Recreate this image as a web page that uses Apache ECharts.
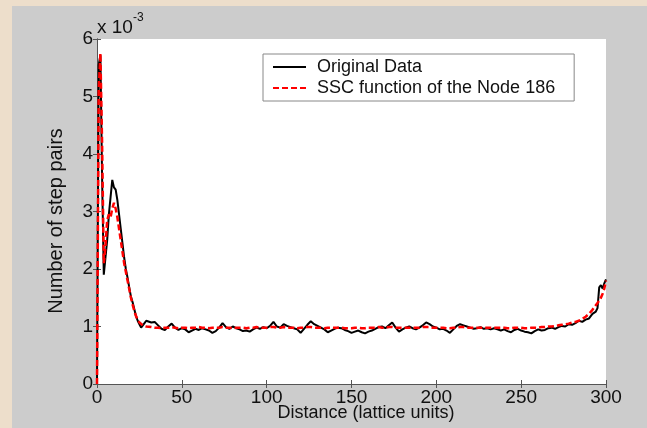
<!DOCTYPE html>
<html>
<head>
<meta charset="utf-8">
<script src="https://cdn.jsdelivr.net/npm/echarts@6/dist/echarts.min.js"></script>
<style>html,body{margin:0;padding:0;background:#eddecb;}#c{width:647px;height:428px;}</style>
</head>
<body>
<div id="c"></div>
<script>
// Distance (lattice units)
var distance = [
0,1,2,3,4,5,6,7,8,9,10,11,12,13,14,15,16,17,18,19,20,21,22,23,24,25,26,27,28,29,30,
32,34,36,38,40,42,44,46,48,50,52,54,56,58,60,62,64,66,68,70,72,74,76,78,80,82,84,86,88,90,
92,94,96,98,100,102,104,106,108,110,112,114,116,118,120,122,124,126,128,130,132,134,136,138,140,
142,144,146,148,150,152,154,156,158,160,162,164,166,168,170,172,174,176,178,180,182,184,186,188,190,
192,194,196,198,200,202,204,206,208,210,212,214,216,218,220,222,224,226,228,230,232,234,236,238,240,
242,244,246,248,250,252,254,256,258,260,262,264,266,268,270,272,274,276,278,280,282,284,286,288,290,
291,292,293,294,295,296,297,298,299,300
];
// Number of step pairs (x 10^-3) - Original Data
var originalData = [
0,5.55,5.72,3.6,1.9,2.2,2.5,2.95,3.25,3.55,3.42,3.38,3.2,2.95,2.7,2.45,2.2,2.0,1.85,1.68,1.52,1.42,1.3,1.18,1.1,1.04,0.98,1.0,1.06,1.1,1.08,
1.07,1.08,1.02,0.96,0.94,1.0,1.05,0.98,0.94,0.97,0.95,0.9,0.93,0.96,0.94,0.97,0.95,0.93,0.89,0.92,0.98,1.06,0.99,0.96,1.0,0.97,0.95,0.92,0.93,0.91,
0.95,0.98,0.96,0.99,0.97,1.01,1.08,1.0,0.98,1.04,1.01,0.99,0.97,0.95,0.89,0.96,1.03,1.09,1.04,1.01,0.98,0.95,0.9,0.93,0.96,
0.98,0.97,0.94,0.92,0.89,0.91,0.93,0.9,0.88,0.91,0.93,0.96,0.99,1.0,0.97,1.02,1.07,0.98,0.91,0.95,0.98,1.0,0.97,0.95,0.98,
1.02,1.07,1.04,1.0,0.98,0.95,0.96,0.93,0.89,0.95,1.01,1.04,1.02,1.0,0.98,0.96,0.97,0.99,0.96,0.97,0.95,0.97,0.95,0.93,0.95,
0.92,0.9,0.94,0.96,0.93,0.91,0.9,0.88,0.92,0.95,0.93,0.94,0.97,0.98,0.96,0.99,1.01,1.0,1.04,1.03,1.06,1.1,1.08,1.12,1.14,
1.18,1.22,1.2,1.26,1.32,1.68,1.72,1.66,1.75,1.82
];
// SSC function of the Node 186
var sscFunction = [
0,5.1,5.75,4.2,2.1,2.4,2.85,2.95,2.9,3.05,3.15,3.05,2.9,2.7,2.5,2.3,2.1,1.95,1.8,1.65,1.5,1.38,1.27,1.18,1.12,1.07,1.04,1.02,1.01,1.0,0.99,
0.99,0.98,0.98,0.97,0.98,0.98,0.99,0.98,0.97,0.98,0.98,0.97,0.98,0.98,0.99,0.98,0.98,0.97,0.98,0.98,0.98,0.99,0.98,0.98,0.97,0.98,0.98,0.98,0.97,0.98,
0.98,0.99,0.98,0.98,0.98,0.99,0.99,0.98,0.98,0.99,0.98,0.98,0.98,0.97,0.98,0.98,0.99,0.99,0.98,0.98,0.98,0.97,0.98,0.98,0.98,
0.98,0.98,0.97,0.97,0.97,0.98,0.98,0.97,0.97,0.98,0.98,0.98,0.99,0.98,0.98,0.99,0.99,0.98,0.98,0.98,0.98,0.98,0.98,0.98,0.98,
0.99,0.99,0.99,0.98,0.98,0.98,0.98,0.97,0.97,0.98,0.98,0.99,0.99,0.98,0.98,0.98,0.98,0.98,0.98,0.98,0.98,0.98,0.98,0.98,0.98,
0.97,0.97,0.98,0.98,0.98,0.97,0.97,0.98,0.98,0.98,0.99,0.99,1.0,1.0,1.01,1.02,1.03,1.04,1.05,1.07,1.08,1.1,1.13,1.17,1.22,
1.25,1.29,1.33,1.37,1.41,1.45,1.5,1.57,1.66,1.8
];
var xTicks = [0, 50, 100, 150, 200, 250, 300];
var yTicks = [0, 1, 2, 3, 4, 5, 6];

var FONT = 'Liberation Sans, Arial, sans-serif';
function pairs(xs, ys) { return xs.map(function (x, i) { return [x, ys[i]]; }); }

var chart = echarts.init(document.getElementById('c'), null, { renderer: 'canvas' });
var axisLineStyle = { color: '#555', width: 1 };
var option = {
  backgroundColor: '#eddecb',
  animation: false,
  graphic: [
    { type: 'rect', left: 12, top: 6, shape: { width: 640, height: 430 }, style: { fill: '#cccccc' }, z: -10, silent: true },
    { type: 'text', left: 97, top: 18, style: { text: 'x 10', font: '19px ' + FONT, fill: '#111' }, z: 10 },
    { type: 'text', left: 133, top: 12, style: { text: '-3', font: '12px ' + FONT, fill: '#111' }, z: 10 },
    { type: 'text', x: 366, y: 413, style: { text: 'Distance (lattice units)', font: '18px ' + FONT, fill: '#111', align: 'center', verticalAlign: 'middle' }, z: 10 },
    { type: 'text', x: 56, y: 221, rotation: Math.PI / 2, style: { text: 'Number of step pairs', font: '20px ' + FONT, fill: '#111', align: 'center', verticalAlign: 'middle' }, z: 10 }
  ],
  grid: { left: 97, right: 41, top: 39, bottom: 44, containLabel: false, outerBoundsMode: 'none', show: true, backgroundColor: '#ffffff', borderWidth: 0 },
  legend: {
    orient: 'vertical', left: 263, top: 54,
    padding: [4, 19, 4, 9], itemGap: 3,
    itemWidth: 33, itemHeight: 14,
    itemStyle: { opacity: 0 },
    backgroundColor: '#ffffff', borderColor: '#888', borderWidth: 1,
    textStyle: { fontFamily: FONT, fontSize: 18, color: '#111', padding: [0, 0, 0, 6] },
    data: ['Original Data', 'SSC function of the Node 186']
  },
  xAxis: [
    {
      type: 'value', min: xTicks[0], max: xTicks[xTicks.length - 1], interval: 50,
      axisLine: { show: true, lineStyle: axisLineStyle },
      axisTick: { show: true, inside: true, length: 4, lineStyle: axisLineStyle },
      axisLabel: { fontFamily: FONT, fontSize: 19, color: '#111', margin: 4 },
      splitLine: { show: false }
    },
    {
      type: 'value', position: 'top', min: 0, max: 300, interval: 50,
      axisLine: { show: true, lineStyle: axisLineStyle },
      axisTick: { show: true, inside: true, length: 4, lineStyle: axisLineStyle },
      axisLabel: { show: false }, splitLine: { show: false }
    }
  ],
  yAxis: [
    {
      type: 'value', min: yTicks[0], max: yTicks[yTicks.length - 1], interval: 1,
      axisLine: { show: true, lineStyle: axisLineStyle },
      axisTick: { show: true, inside: true, length: 4, lineStyle: axisLineStyle },
      axisLabel: { fontFamily: FONT, fontSize: 19, color: '#111', margin: 4 },
      splitLine: { show: false }
    },
    {
      type: 'value', position: 'right', min: 0, max: 6, interval: 1,
      axisLine: { show: true, lineStyle: axisLineStyle },
      axisTick: { show: true, inside: true, length: 4, lineStyle: axisLineStyle },
      axisLabel: { show: false }, splitLine: { show: false }
    }
  ],
  series: [
    {
      name: 'Original Data', type: 'line', xAxisIndex: 0, yAxisIndex: 0,
      data: pairs(distance, originalData), symbol: 'none', showSymbol: false,
      lineStyle: { color: '#000000', width: 2 }, itemStyle: { color: '#000000' }, z: 2
    },
    {
      name: 'SSC function of the Node 186', type: 'line', xAxisIndex: 0, yAxisIndex: 0,
      data: pairs(distance, sscFunction), symbol: 'none', showSymbol: false,
      lineStyle: { color: '#ff0000', width: 2.5, type: [6, 3] }, itemStyle: { color: '#ff0000' }, z: 3
    }
  ]
};
chart.setOption(option);
</script>
</body>
</html>
